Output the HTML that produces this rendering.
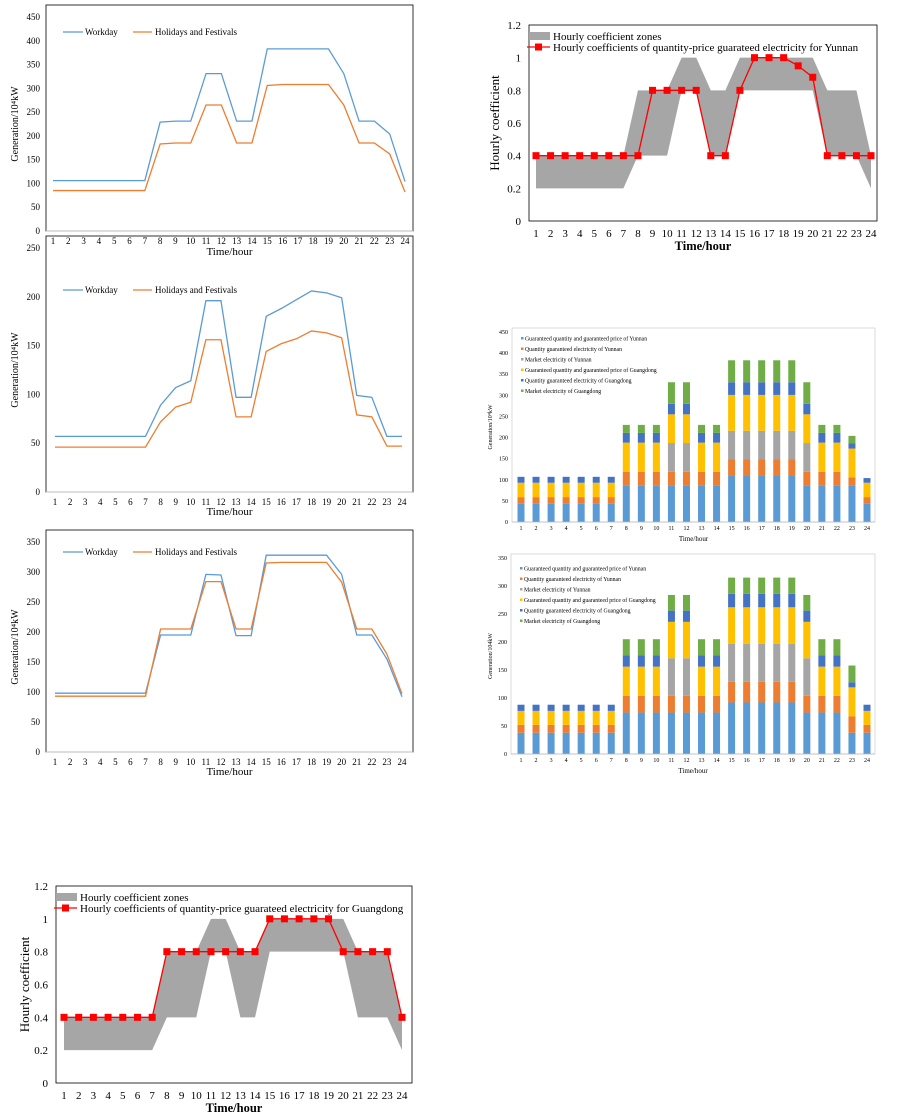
<!DOCTYPE html>
<html><head><meta charset="utf-8"><style>
body{margin:0;background:#fff;}
svg{display:block;font-family:"Liberation Serif",serif;}
</style></head><body>
<svg id="s" width="901" height="1120" xmlns="http://www.w3.org/2000/svg"></svg>
<script>
const S=document.getElementById('s');let out='';
function ln(x1,y1,x2,y2,c,w){out+=`<line x1="${x1}" y1="${y1}" x2="${x2}" y2="${y2}" stroke="${c}" stroke-width="${w}"/>`;}
function tx(x,y,t,sz,anc,extra){out+=`<text x="${x}" y="${y}" font-size="${sz}" text-anchor="${anc||'start'}" ${extra||''}>${t}</text>`;}
function lineChart(o){
 const {L,R,T,B,max,step,x1,x24,ser,fs,tfs,ty,ylx,ylab}=o;
 out+=`<rect x="${L}" y="${T-12}" width="${R-L}" height="${B-T+12}" fill="none" stroke="#000" stroke-width="0.8"/>`;
 const Y=v=>B-(B-T)*v/max, X=h=>x1+(x24-x1)*(h-1)/23;
 for(let v=0;v<=max;v+=step){tx(L-6,Y(v)+3,v,fs,'end');}
 ln(L,B,R,B,'#bbb',1);
 for(let h=1;h<=24;h++)tx(X(h),B+13,h,fs,'middle');
 tx((L+R)/2,ty,'Time/hour',tfs,'middle');
 out+=`<text transform="translate(${ylx},${(T+B)/2}) rotate(-90)" font-size="${tfs-1}" text-anchor="middle">${ylab}</text>`;
 ser.forEach(s=>{out+=`<polyline fill="none" stroke="${s.c}" stroke-width="1.3" points="${s.d.map((v,i)=>X(i+1)+','+Y(v)).join(' ')}"/>`;});
 const ly=o.ly;ln(L+17,ly,L+37,ly,'#5b9bd5',1.3);tx(L+39,ly+3,'Workday',fs);
 ln(L+87,ly,L+106,ly,'#ed7d31',1.3);tx(L+109,ly+3,'Holidays and Festivals',fs);
}
function rep(a,n){return Array(n).fill(a);}
lineChart({L:46,R:413,T:17,B:231,max:450,step:50,x1:53,x24:405,fs:9,tfs:11,ty:255,ylx:18,ylab:'Generation/10⁴kW',ly:32,
 ser:[{c:'#5b9bd5',d:[...rep(106,7),229,231,231,331,331,231,231,383,383,383,383,383,331,231,231,204,104]},
      {c:'#ed7d31',d:[...rep(85,7),183,185,185,265,265,185,185,306,308,308,308,308,265,185,185,162,82]}]});
lineChart({L:46,R:413,T:248,B:492,max:250,step:50,x1:55,x24:402,fs:9,tfs:11,ty:515,ylx:18,ylab:'Generation/10⁴kW',ly:290,
 ser:[{c:'#5b9bd5',d:[...rep(57,7),89,107,114,196,196,97,97,180,188,197,206,204,199,99,97,57,57]},
      {c:'#ed7d31',d:[...rep(46,7),72,87,92,156,156,77,77,144,152,157,165,163,158,79,77,47,47]}]});
lineChart({L:46,R:413,T:542,B:752,max:350,step:50,x1:55,x24:402,fs:9,tfs:11,ty:775,ylx:18,ylab:'Generation/10⁴kW',ly:552,
 ser:[{c:'#5b9bd5',d:[...rep(98,7),195,195,195,296,295,194,194,328,328,328,328,328,296,195,195,155,92]},
      {c:'#ed7d31',d:[...rep(93,7),205,205,205,284,284,205,205,315,316,316,316,316,283,205,205,163,97]}]});
function coef(o){
 const {L,R,T,B,x1,x24,lo,hi,red,ty,ylx,name}=o;
 const Y=v=>B-(B-T)*v/1.2, X=h=>x1+(x24-x1)*(h-1)/23;
 out+=`<rect x="${L}" y="${T}" width="${R-L}" height="${B-T}" fill="none" stroke="#000" stroke-width="0.8"/>`;
 let p=hi.map((v,i)=>X(i+1)+','+Y(v)).concat(lo.map((v,i)=>X(i+1)+','+Y(v)).reverse());
 out+=`<polygon points="${p.join(' ')}" fill="#a6a6a6"/>`;
 ['0','0.2','0.4','0.6','0.8','1','1.2'].forEach((t,i)=>tx(L-8,Y(i*0.2)+4,t,11,'end'));
 for(let h=1;h<=24;h++)tx(X(h),B+16,h,11,'middle');
 tx((L+R)/2,ty,'Time/hour',12.5,'middle','font-weight="bold"');
 out+=`<text transform="translate(${ylx},${(T+B)/2}) rotate(-90)" font-size="13" text-anchor="middle">Hourly coefficient</text>`;
 out+=`<polyline fill="none" stroke="#f00" stroke-width="1.3" points="${red.map((v,i)=>X(i+1)+','+Y(v)).join(' ')}"/>`;
 red.forEach((v,i)=>out+=`<rect x="${X(i+1)-3.5}" y="${Y(v)-3.5}" width="7" height="7" fill="#f00"/>`);
 out+=`<rect x="${L}" y="${T+7}" width="21" height="8" fill="#a6a6a6"/>`;
 tx(L+24,T+15,'Hourly coefficient zones',11);
 ln(L-2,T+22,L+21,T+22,'#f00',1.3);out+=`<rect x="${L+6}" y="${T+18.5}" width="7" height="7" fill="#f00"/>`;
 tx(L+24,T+26,'Hourly coefficients of quantity-price guarateed electricity for '+name,11);
}
coef({L:529,R:877,T:25,B:221,x1:536,x24:871,ty:250,ylx:499,name:'Yunnan',
 lo:[...rep(0.2,7),0.4,0.4,0.4,0.8,0.8,0.4,0.4,0.8,0.8,0.8,0.8,0.8,0.8,0.4,0.4,0.4,0.2],
 hi:[...rep(0.4,7),0.8,0.8,0.8,1,1,0.8,0.8,1,1,1,1,1,1,0.8,0.8,0.8,0.4],
 red:[...rep(0.4,8),0.8,0.8,0.8,0.8,0.4,0.4,0.8,1,1,1,0.95,0.88,0.4,0.4,0.4,0.4]});
coef({L:56,R:412,T:886,B:1083,x1:64,x24:402,ty:1112,ylx:29,name:'Guangdong',
 lo:[...rep(0.2,7),0.4,0.4,0.4,0.8,0.8,0.4,0.4,0.8,0.8,0.8,0.8,0.8,0.8,0.4,0.4,0.4,0.2],
 hi:[...rep(0.4,7),0.8,0.8,0.8,1,1,0.8,0.8,1,1,1,1,1,1,0.8,0.8,0.8,0.4],
 red:[...rep(0.4,7),0.8,0.8,0.8,0.8,0.8,0.8,0.8,1,1,1,1,1,0.8,0.8,0.8,0.8,0.4]});
const COL=['#5b9bd5','#ed7d31','#a5a5a5','#ffc000','#4472c4','#70ad47'];
const LEG=['Guaranteed quantity and guaranteed price of Yunnan','Quantity guaranteed electricity of Yunnan','Market electricity of Yunnan','Guaranteed quantity and guaranteed price of Guangdong','Quantity guaranteed electricity of Guangdong','Market electricity of Guangdong'];
function stack(o){
 const {L,R,T,B,max,data,ty,ly,ylab}=o;
 const Y=v=>B-(B-T)*v/max, X=h=>521+(867-521)*(h-1)/23;
 out+=`<rect x="${L}" y="${T-4}" width="${R-L}" height="${B-T+4}" fill="none" stroke="#ccc" stroke-width="0.7"/>`;
 for(let v=0;v<=max;v+=50)tx(L-4,Y(v)+2,v,6,'end');
 data.forEach((c,i)=>{let prev=0;c.forEach((v,k)=>{if(v>prev){out+=`<rect x="${X(i+1)-3.5}" y="${Y(v)}" width="7" height="${Y(prev)-Y(v)}" fill="${COL[k]}"/>`;prev=v;}});tx(X(i+1),B+8,i+1,6,'middle');});
 ln(L,B,R,B,'#bbb',0.7);
 tx((L+R)/2,ty,'Time/hour',7,'middle');
 out+=`<text transform="translate(492,${(T+B)/2}) rotate(-90)" font-size="6" text-anchor="middle">${ylab}</text>`;
 LEG.forEach((t,k)=>{out+=`<rect x="${L+9}" y="${ly+k*10.5-2}" width="2.5" height="2.5" fill="${COL[k]}"/>`;tx(L+13,ly+k*10.5+1.5,t,5.8);});
}
function d(...a){return a;}
const A=d(43,59,59,93,107,107),Bv=d(87,119,119,188,211,230),C=d(87,119,187,255,280,331),D=d(109,149,216,301,331,383);
stack({L:512,R:875,T:332,B:522,max:450,ty:541,ly:339,ylab:'Generation/10⁴kW',
 data:[A,A,A,A,A,A,A,Bv,Bv,Bv,C,C,Bv,Bv,D,D,D,D,D,C,Bv,Bv,d(87,106,106,174,186,204),d(43,59,59,93,104,104)]});
const a=d(38,52,52,77,88,88),b=d(74,104,104,156,176,205),c=d(74,104,171,236,256,284),e=d(92,129,197,262,286,315);
stack({L:511,R:875,T:558,B:754,max:350,ty:773,ly:569,ylab:'Generation/104kW',
 data:[a,a,a,a,a,a,a,b,b,b,c,c,b,b,e,e,e,e,e,c,b,b,d(38,67,67,119,128,158),a]});
S.innerHTML=out;
</script>
</body></html>
